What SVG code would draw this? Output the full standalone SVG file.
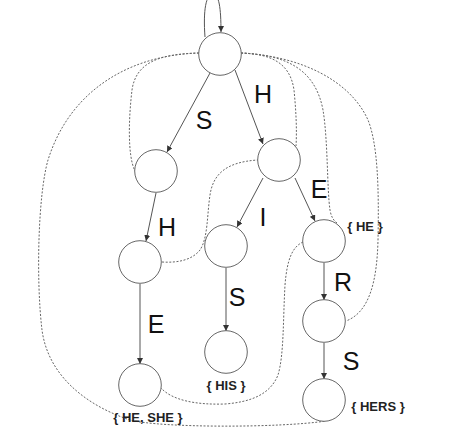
<svg xmlns="http://www.w3.org/2000/svg" width="474" height="428" viewBox="0 0 474 428">
<style>
.node{fill:#fff;stroke:#666;stroke-width:1}
.edge{fill:none;stroke:#555;stroke-width:1}
.fail{fill:none;stroke:#666;stroke-width:1;stroke-dasharray:2 1.6}
.lbl{font-family:"Liberation Sans",Arial,sans-serif;font-size:25px;fill:#111;text-anchor:middle}
.out{font-family:"Liberation Sans",Arial,sans-serif;font-size:13px;font-weight:bold;fill:#222;text-anchor:middle}
</style>
<defs>
<marker id="arr" viewBox="0 0 10 10" refX="10" refY="5" markerWidth="6" markerHeight="6" markerUnits="userSpaceOnUse" orient="auto">
<path d="M0,0 L10,5 L0,10 Z" fill="#333"/>
</marker>
</defs>
<rect width="474" height="428" fill="#fff"/>
<g id="connectors">
<path class="edge" d="M205,37 C203,10 206,-6 213,-6 C219,-6 221,8 221,32" marker-end="url(#arr)"/>
<line class="edge" x1="210" y1="73" x2="167" y2="152" marker-end="url(#arr)"/>
<line class="edge" x1="235" y1="70" x2="263" y2="144" marker-end="url(#arr)"/>
<line class="edge" x1="156" y1="193" x2="146" y2="241" marker-end="url(#arr)"/>
<line class="edge" x1="263" y1="178" x2="237" y2="227" marker-end="url(#arr)"/>
<line class="edge" x1="295" y1="178" x2="315" y2="221" marker-end="url(#arr)"/>
<line class="edge" x1="140" y1="284" x2="140" y2="364" marker-end="url(#arr)"/>
<line class="edge" x1="226" y1="268" x2="226" y2="331" marker-end="url(#arr)"/>
<line class="edge" x1="324" y1="263" x2="324" y2="300" marker-end="url(#arr)"/>
<line class="edge" x1="324" y1="343" x2="324" y2="379" marker-end="url(#arr)"/>
<path class="fail" d="M199,53 C160,54 136,62 132,90 C129,115 127,155 135,171"/>
<path class="fail" d="M199,53 C130,55 70,90 48,160 C38,195 36,280 42,330 C48,375 85,405 130,420 C160,428 280,428 326,421"/>
<path class="fail" d="M241,53 C270,54 290,62 294,90 C296,110 297,130 296,146"/>
<path class="fail" d="M241,53 C285,55 315,68 323,110 C328,140 327,190 330,210 C331,216 333,220 337,223"/>
<path class="fail" d="M241,53 C300,56 350,80 368,120 C378,145 379,190 378,240 C377,280 370,312 346,321"/>
<path class="fail" d="M162,262 C178,263 192,260 200,250 C208,238 207,215 210,195 C213,175 225,162 258,160"/>
<path class="fail" d="M303,242 C292,247 287,260 285,285 C283,320 284,355 278,375 C270,395 250,402 225,404 C195,405 172,400 161,388"/>
</g>
<g id="n-root"><circle class="node" cx="220" cy="54" r="21.3"/></g>
<g id="n-s"><circle class="node" cx="156" cy="171" r="21.3"/></g>
<g id="n-h"><circle class="node" cx="279" cy="160" r="21.3"/></g>
<g id="n-sh"><circle class="node" cx="140" cy="262" r="21.3"/></g>
<g id="n-hi"><circle class="node" cx="226" cy="246" r="21.3"/></g>
<g id="n-he"><circle class="node" cx="324" cy="241" r="21.3"/></g>
<g id="n-her"><circle class="node" cx="324" cy="321" r="21.3"/></g>
<g id="n-his"><circle class="node" cx="226" cy="352" r="21.3"/></g>
<g id="n-she"><circle class="node" cx="140" cy="385" r="21.3"/></g>
<g id="n-hers"><circle class="node" cx="324" cy="400" r="21.3"/></g>
<g id="labels">
<text class="lbl" x="204" y="129">S</text>
<text class="lbl" x="263" y="103">H</text>
<text class="lbl" x="167" y="236">H</text>
<text class="lbl" x="263" y="226">I</text>
<text class="lbl" x="319" y="198">E</text>
<text class="lbl" x="343" y="291">R</text>
<text class="lbl" x="237" y="306">S</text>
<text class="lbl" x="156" y="333">E</text>
<text class="lbl" x="351" y="370">S</text>
<text class="out" x="365" y="230.5">{ HE }</text>
<text class="out" x="226" y="389.5">{ HIS }</text>
<text class="out" x="148" y="421.5">{ HE, SHE }</text>
<text class="out" x="378" y="410.5">{ HERS }</text>
</g>
</svg>
